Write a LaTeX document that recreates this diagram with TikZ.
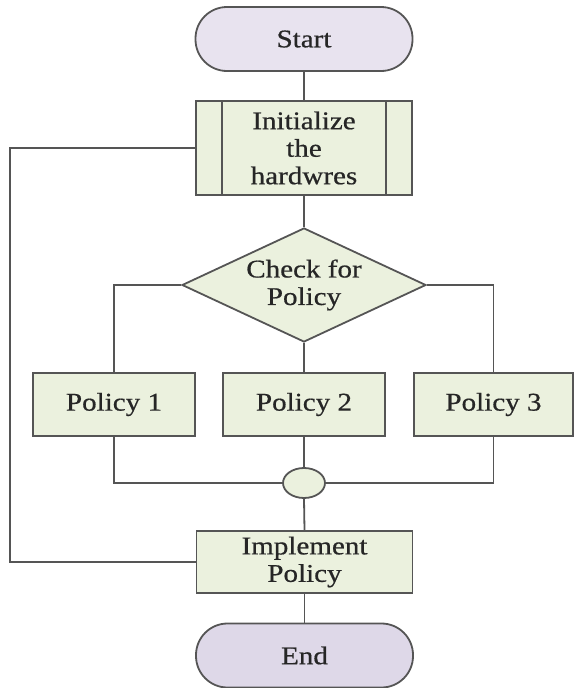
\documentclass[tikz,border=0pt]{standalone}
\usepackage{fontspec}
\setmainfont[FakeStretch=1.14,FakeBold=0.6]{Liberation Serif}
\usetikzlibrary{shapes.geometric,calc}
\definecolor{linegray}{HTML}{555555}
\definecolor{boxgreen}{HTML}{EBF1DE}
\definecolor{startlav}{HTML}{E8E3EF}
\definecolor{endlav}{HTML}{DED8E8}
\begin{document}
\begin{tikzpicture}[x=1pt,y=-1pt,
  every node/.style={font=\fontsize{25.5}{27.5}\selectfont, align=center, inner sep=0pt, text=black!85},
  conn/.style={draw=linegray, line width=1.8pt},
  term/.style={draw=linegray, line width=1.8pt, rounded corners=31.5pt, minimum width=217pt, minimum height=64pt},
  procbox/.style={draw=linegray, line width=1.8pt, fill=boxgreen, minimum height=63pt},
  decide/.style={draw=linegray, line width=1.8pt, fill=boxgreen, diamond, aspect=2.14, minimum width=244pt, minimum height=114pt},
  merge/.style={draw=linegray, line width=1.8pt, fill=boxgreen, ellipse, minimum width=42pt, minimum height=30pt}
]
\useasboundingbox (0,0) rectangle (573,688);
\node[term, fill=startlav] (start) at (304,39) {Start};
\node[procbox, minimum width=216pt, minimum height=94pt] (init) at (304,148) {Initialize\\the\\hardwres};
\draw[conn] ($(init.north west)+(27,0)$) -- ($(init.south west)+(27,0)$);
\draw[conn] ($(init.north east)+(-27,0)$) -- ($(init.south east)+(-27,0)$);
\node[decide] (check) at (304,285) {Check for\\Policy};
\node[procbox, minimum width=162pt] (p1) at (114,404.5) {Policy 1};
\node[procbox, minimum width=162pt] (p2) at (304,404.5) {Policy 2};
\node[procbox, minimum width=159pt] (p3) at (493.5,404.5) {Policy 3};
\node[merge] (join) at (304,483) {};
\node[procbox, minimum width=216pt, minimum height=62pt] (impl) at (304.5,562) {Implement\\Policy};
\node[term, fill=endlav] (end) at (304.5,655.5) {End};
\coordinate (fb) at (10,562);
\draw[conn] (start) -- (init);
\draw[conn] (init) -- (check);
\draw[conn] (check.west) -| (p1.north);
\draw[conn] (check.east) -| (p3.north);
\draw[conn] (check.south) -- (p2.north);
\draw[conn] (p1.south) |- (join.west);
\draw[conn] (p3.south) |- (join.east);
\draw[conn] (p2.south) -- (join.north);
\draw[conn] (join.south) -- (impl.north);
\draw[conn] (impl) -- (end);
\draw[conn] (impl.west) -- (fb) |- (init.west);
\end{tikzpicture}
\end{document}
